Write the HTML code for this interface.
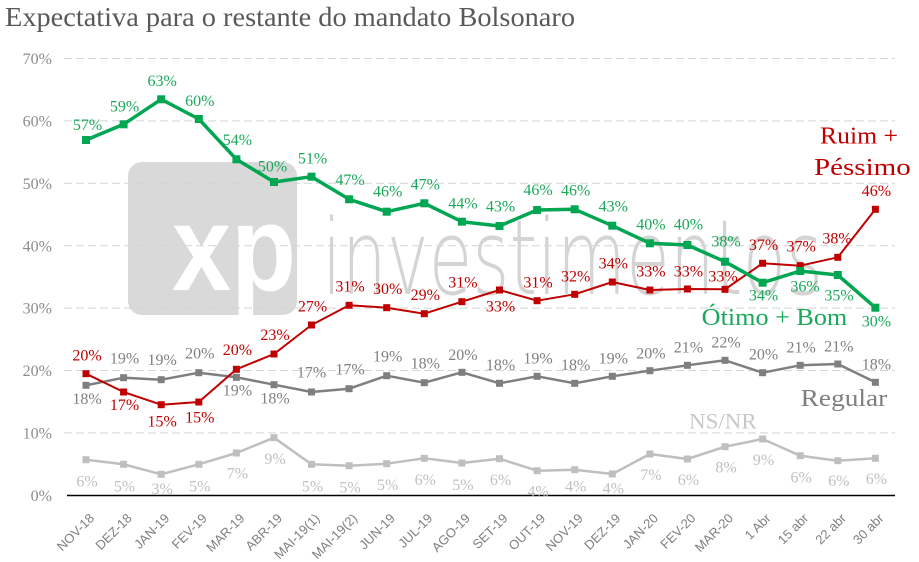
<!DOCTYPE html>
<html>
<head>
<meta charset="utf-8">
<style>
html,body{margin:0;padding:0;background:#fff;}
svg{display:block;}
text{font-family:"Liberation Serif",serif;}
.ax text{font-family:"Liberation Sans",sans-serif;font-size:13px;fill:#7f7f7f;}
.yl text{font-size:16px;fill:#8c8c8c;}
.lg text{font-size:16px;fill:#1aa85a;}
.lr text{font-size:16px;fill:#c00000;}
.lq text{font-size:16px;fill:#808080;}
.ln text{font-size:16px;fill:#c0c0c0;}
text.xp{font-family:"Liberation Sans",sans-serif;font-weight:bold;}
text.inv{font-family:"DejaVu Sans","Liberation Sans",sans-serif;font-weight:200;}
</style>
</head>
<body>
<svg xmlns="http://www.w3.org/2000/svg" width="919" height="562" viewBox="0 0 919 562">
<rect width="919" height="562" fill="#fff"/>
<text x="5" y="26" font-size="27" fill="#595959" textLength="570" lengthAdjust="spacingAndGlyphs">Expectativa para o restante do mandato Bolsonaro</text>

<defs><clipPath id="wm"><rect x="128" y="162" width="169" height="153" rx="14"/></clipPath></defs>
<rect x="128" y="162" width="169" height="153" rx="14" fill="#d9d9d9"/>
<g clip-path="url(#wm)"><text class="xp" x="172" y="290" font-size="122" fill="#fff" textLength="124" lengthAdjust="spacingAndGlyphs">xp</text></g>
<text class="inv" x="322" y="294" font-size="104" fill="#d4d4d4" textLength="501" lengthAdjust="spacingAndGlyphs">investimentos</text>

<g stroke="#d4d4d4" stroke-width="1" stroke-dasharray="8 4">
<line x1="64" y1="58.5" x2="895" y2="58.5"/>
<line x1="64" y1="120.9" x2="895" y2="120.9"/>
<line x1="64" y1="183.3" x2="895" y2="183.3"/>
<line x1="64" y1="245.7" x2="895" y2="245.7"/>
<line x1="64" y1="308.1" x2="895" y2="308.1"/>
<line x1="64" y1="370.5" x2="895" y2="370.5"/>
<line x1="64" y1="432.9" x2="895" y2="432.9"/>
</g>
<line x1="67" y1="495.5" x2="895" y2="495.5" stroke="#000" stroke-width="1.5"/>

<g class="yl" text-anchor="end">
<text x="52" y="64">70%</text>
<text x="52" y="126.5">60%</text>
<text x="52" y="189">50%</text>
<text x="52" y="251.3">40%</text>
<text x="52" y="313.7">30%</text>
<text x="52" y="376">20%</text>
<text x="52" y="438.5">10%</text>
<text x="52" y="501">0%</text>
</g>

<g class="ax" text-anchor="end">
<text transform="translate(95,519) rotate(-45)">NOV-18</text>
<text transform="translate(132.6,519) rotate(-45)">DEZ-18</text>
<text transform="translate(170.2,519) rotate(-45)">JAN-19</text>
<text transform="translate(207.8,519) rotate(-45)">FEV-19</text>
<text transform="translate(245.4,519) rotate(-45)">MAR-19</text>
<text transform="translate(283,519) rotate(-45)">ABR-19</text>
<text transform="translate(320.5,519) rotate(-45)">MAI-19(1)</text>
<text transform="translate(358.1,519) rotate(-45)">MAI-19(2)</text>
<text transform="translate(395.7,519) rotate(-45)">JUN-19</text>
<text transform="translate(433.3,519) rotate(-45)">JUL-19</text>
<text transform="translate(470.9,519) rotate(-45)">AGO-19</text>
<text transform="translate(508.5,519) rotate(-45)">SET-19</text>
<text transform="translate(546.1,519) rotate(-45)">OUT-19</text>
<text transform="translate(583.7,519) rotate(-45)">NOV-19</text>
<text transform="translate(621.3,519) rotate(-45)">DEZ-19</text>
<text transform="translate(658.9,519) rotate(-45)">JAN-20</text>
<text transform="translate(696.4,519) rotate(-45)">FEV-20</text>
<text transform="translate(734,519) rotate(-45)">MAR-20</text>
<text transform="translate(771.6,519) rotate(-45)">1 Abr</text>
<text transform="translate(809.2,519) rotate(-45)">15 abr</text>
<text transform="translate(846.8,519) rotate(-45)">22 abr</text>
<text transform="translate(884.4,519) rotate(-45)">30 abr</text>
</g>

<!-- NS/NR -->
<polyline fill="none" stroke="#bfbfbf" stroke-width="2.5" stroke-linejoin="round" points="86,459.7 123.6,464.3 161.2,474.3 198.8,464.3 236.4,453 274,437.7 311.5,464.3 349.1,465.7 386.7,463.7 424.3,458.3 461.9,463 499.5,458.7 537.1,470.7 574.7,469.7 612.3,474 649.9,454 687.4,459 725,446.7 762.6,439 800.2,455.7 837.8,460.7 875.4,458.3"/>
<g fill="#bfbfbf">
<rect x="82.5" y="456.2" width="7" height="7"/><rect x="120.1" y="460.8" width="7" height="7"/><rect x="157.7" y="470.8" width="7" height="7"/><rect x="195.3" y="460.8" width="7" height="7"/><rect x="232.9" y="449.5" width="7" height="7"/><rect x="270.5" y="434.2" width="7" height="7"/><rect x="308" y="460.8" width="7" height="7"/><rect x="345.6" y="462.2" width="7" height="7"/><rect x="383.2" y="460.2" width="7" height="7"/><rect x="420.8" y="454.8" width="7" height="7"/><rect x="458.4" y="459.5" width="7" height="7"/><rect x="496" y="455.2" width="7" height="7"/><rect x="533.6" y="467.2" width="7" height="7"/><rect x="571.2" y="466.2" width="7" height="7"/><rect x="608.8" y="470.5" width="7" height="7"/><rect x="646.4" y="450.5" width="7" height="7"/><rect x="683.9" y="455.5" width="7" height="7"/><rect x="721.5" y="443.2" width="7" height="7"/><rect x="759.1" y="435.5" width="7" height="7"/><rect x="796.7" y="452.2" width="7" height="7"/><rect x="834.3" y="457.2" width="7" height="7"/><rect x="871.9" y="454.8" width="7" height="7"/>
</g>

<!-- Regular -->
<polyline fill="none" stroke="#7f7f7f" stroke-width="2.5" stroke-linejoin="round" points="86,385.3 123.6,377.7 161.2,379.7 198.8,372.7 236.4,377.3 274,384.7 311.5,392 349.1,388.7 386.7,375.7 424.3,382.7 461.9,372.3 499.5,383.3 537.1,376.3 574.7,383.3 612.3,376.3 649.9,370.7 687.4,365.3 725,360.3 762.6,372.7 800.2,365.3 837.8,364 875.4,382.3"/>
<g fill="#7f7f7f">
<rect x="82.5" y="381.8" width="7" height="7"/><rect x="120.1" y="374.2" width="7" height="7"/><rect x="157.7" y="376.2" width="7" height="7"/><rect x="195.3" y="369.2" width="7" height="7"/><rect x="232.9" y="373.8" width="7" height="7"/><rect x="270.5" y="381.2" width="7" height="7"/><rect x="308" y="388.5" width="7" height="7"/><rect x="345.6" y="385.2" width="7" height="7"/><rect x="383.2" y="372.2" width="7" height="7"/><rect x="420.8" y="379.2" width="7" height="7"/><rect x="458.4" y="368.8" width="7" height="7"/><rect x="496" y="379.8" width="7" height="7"/><rect x="533.6" y="372.8" width="7" height="7"/><rect x="571.2" y="379.8" width="7" height="7"/><rect x="608.8" y="372.8" width="7" height="7"/><rect x="646.4" y="367.2" width="7" height="7"/><rect x="683.9" y="361.8" width="7" height="7"/><rect x="721.5" y="356.8" width="7" height="7"/><rect x="759.1" y="369.2" width="7" height="7"/><rect x="796.7" y="361.8" width="7" height="7"/><rect x="834.3" y="360.5" width="7" height="7"/><rect x="871.9" y="378.8" width="7" height="7"/>
</g>

<!-- Ruim + Pessimo -->
<polyline fill="none" stroke="#c00000" stroke-width="2" stroke-linejoin="round" points="86,373.7 123.6,392 161.2,404.7 198.8,402 236.4,369.3 274,354 311.5,325 349.1,305.3 386.7,307.7 424.3,313.7 461.9,301.7 499.5,290 537.1,300.7 574.7,294.3 612.3,282 649.9,290 687.4,289 725,289.3 762.6,263.3 800.2,265.7 837.8,257.3 875.4,209.3"/>
<g fill="#c00000">
<rect x="82.5" y="370.2" width="7" height="7"/><rect x="120.1" y="388.5" width="7" height="7"/><rect x="157.7" y="401.2" width="7" height="7"/><rect x="195.3" y="398.5" width="7" height="7"/><rect x="232.9" y="365.8" width="7" height="7"/><rect x="270.5" y="350.5" width="7" height="7"/><rect x="308" y="321.5" width="7" height="7"/><rect x="345.6" y="301.8" width="7" height="7"/><rect x="383.2" y="304.2" width="7" height="7"/><rect x="420.8" y="310.2" width="7" height="7"/><rect x="458.4" y="298.2" width="7" height="7"/><rect x="496" y="286.5" width="7" height="7"/><rect x="533.6" y="297.2" width="7" height="7"/><rect x="571.2" y="290.8" width="7" height="7"/><rect x="608.8" y="278.5" width="7" height="7"/><rect x="646.4" y="286.5" width="7" height="7"/><rect x="683.9" y="285.5" width="7" height="7"/><rect x="721.5" y="285.8" width="7" height="7"/><rect x="759.1" y="259.8" width="7" height="7"/><rect x="796.7" y="262.2" width="7" height="7"/><rect x="834.3" y="253.8" width="7" height="7"/><rect x="871.9" y="205.8" width="7" height="7"/>
</g>

<!-- Otimo + Bom -->
<polyline fill="none" stroke="#00a651" stroke-width="3.5" stroke-linejoin="round" points="86,140 123.6,124.3 161.2,99.3 198.8,119 236.4,159.3 274,182 311.5,176.7 349.1,199.3 386.7,211.7 424.3,203.3 461.9,221.7 499.5,226 537.1,210 574.7,209.3 612.3,225.7 649.9,243.3 687.4,245 725,261.7 762.6,282.7 800.2,271 837.8,275 875.4,307.7"/>
<g fill="#00a651">
<rect x="82" y="136" width="8" height="8"/><rect x="119.6" y="120.3" width="8" height="8"/><rect x="157.2" y="95.3" width="8" height="8"/><rect x="194.8" y="115" width="8" height="8"/><rect x="232.4" y="155.3" width="8" height="8"/><rect x="270" y="178" width="8" height="8"/><rect x="307.5" y="172.7" width="8" height="8"/><rect x="345.1" y="195.3" width="8" height="8"/><rect x="382.7" y="207.7" width="8" height="8"/><rect x="420.3" y="199.3" width="8" height="8"/><rect x="457.9" y="217.7" width="8" height="8"/><rect x="495.5" y="222" width="8" height="8"/><rect x="533.1" y="206" width="8" height="8"/><rect x="570.7" y="205.3" width="8" height="8"/><rect x="608.3" y="221.7" width="8" height="8"/><rect x="645.9" y="239.3" width="8" height="8"/><rect x="683.4" y="241" width="8" height="8"/><rect x="721" y="257.7" width="8" height="8"/><rect x="758.6" y="278.7" width="8" height="8"/><rect x="796.2" y="267" width="8" height="8"/><rect x="833.8" y="271" width="8" height="8"/><rect x="871.4" y="303.7" width="8" height="8"/>
</g>

<!-- labels NS/NR -->
<g class="ln" text-anchor="middle">
<text x="87" y="486.7">6%</text><text x="124.6" y="491.7">5%</text><text x="162.2" y="494">3%</text><text x="199.8" y="491.7">5%</text><text x="237.4" y="478.3">7%</text><text x="275" y="464">9%</text><text x="312.5" y="491.7">5%</text><text x="350.1" y="492.3">5%</text><text x="387.7" y="490">5%</text><text x="425.3" y="485">6%</text><text x="462.9" y="490">5%</text><text x="500.5" y="485">6%</text><text x="538.1" y="496.7">4%</text><text x="575.7" y="491.7">4%</text><text x="613.3" y="493.3">4%</text><text x="650.9" y="480">7%</text><text x="688.4" y="485">6%</text><text x="726" y="472.3">8%</text><text x="763.6" y="465">9%</text><text x="801.2" y="482.3">6%</text><text x="838.8" y="486">6%</text><text x="876.4" y="484">6%</text>
</g>

<!-- labels Regular -->
<g class="lq" text-anchor="middle">
<text x="87" y="404">18%</text><text x="124.6" y="363.3">19%</text><text x="162.2" y="365">19%</text><text x="199.8" y="358.3">20%</text><text x="237.4" y="395.7">19%</text><text x="275" y="403.3">18%</text><text x="311.5" y="377.7">17%</text><text x="350.1" y="374.3">17%</text><text x="387.7" y="361.7">19%</text><text x="425.3" y="368.5">18%</text><text x="462.9" y="360">20%</text><text x="500.5" y="370">18%</text><text x="538.1" y="363.3">19%</text><text x="575.7" y="370">18%</text><text x="613.3" y="363.3">19%</text><text x="650.9" y="358.3">20%</text><text x="688.4" y="352.7">21%</text><text x="726" y="347.3">22%</text><text x="763.6" y="359.3">20%</text><text x="801.2" y="352.7">21%</text><text x="838.8" y="351.7">21%</text><text x="876.4" y="369.3">18%</text>
</g>

<!-- labels Ruim -->
<g class="lr" text-anchor="middle">
<text x="87" y="360.5">20%</text><text x="124.6" y="410">17%</text><text x="162.2" y="426.7">15%</text><text x="199.8" y="422.7">15%</text><text x="237.4" y="355">20%</text><text x="275" y="340">23%</text><text x="312.5" y="311.5">27%</text><text x="350.1" y="291.5">31%</text><text x="387.7" y="294">30%</text><text x="425.3" y="300">29%</text><text x="462.9" y="287.5">31%</text><text x="500.5" y="311.7">33%</text><text x="538.1" y="287.5">31%</text><text x="575.7" y="281.7">32%</text><text x="613.3" y="268.3">34%</text><text x="650.9" y="276.7">33%</text><text x="688.4" y="276.7">33%</text><text x="723" y="281.7">33%</text><text x="763.6" y="250">37%</text><text x="801.2" y="251.7">37%</text><text x="837" y="243.3">38%</text><text x="876.4" y="196">46%</text>
</g>

<!-- labels Otimo -->
<g class="lg" text-anchor="middle">
<text x="87.5" y="130">57%</text><text x="124.6" y="111.7">59%</text><text x="162.2" y="86">63%</text><text x="199.8" y="106">60%</text><text x="237.4" y="145">54%</text><text x="272.5" y="171.7">50%</text><text x="312.5" y="163.3">51%</text><text x="350.1" y="185">47%</text><text x="387.7" y="196.7">46%</text><text x="425.3" y="189.3">47%</text><text x="462.9" y="208.3">44%</text><text x="500.5" y="211.7">43%</text><text x="538.1" y="195">46%</text><text x="575.7" y="195.7">46%</text><text x="613.3" y="211.7">43%</text><text x="650.9" y="229.3">40%</text><text x="688.4" y="229.3">40%</text><text x="726" y="246.7">38%</text><text x="763.6" y="300.7">34%</text><text x="805" y="291.7">36%</text><text x="839" y="300.7">35%</text><text x="876.4" y="326.7">30%</text>
</g>

<!-- legends -->
<text x="820" y="143.3" font-size="24" fill="#c00000" textLength="78" lengthAdjust="spacingAndGlyphs">Ruim +</text>
<text x="814" y="175" font-size="24" fill="#c00000" textLength="96.7" lengthAdjust="spacingAndGlyphs">Péssimo</text>
<text x="701.7" y="325" font-size="24" fill="#1aa85a" textLength="145.6" lengthAdjust="spacingAndGlyphs">Ótimo + Bom</text>
<text x="800.7" y="406" font-size="24" fill="#7f7f7f" textLength="86.6" lengthAdjust="spacingAndGlyphs">Regular</text>
<text x="689" y="428.3" font-size="22" fill="#c8c8c8" textLength="67.7" lengthAdjust="spacingAndGlyphs">NS/NR</text>
</svg>
</body>
</html>
